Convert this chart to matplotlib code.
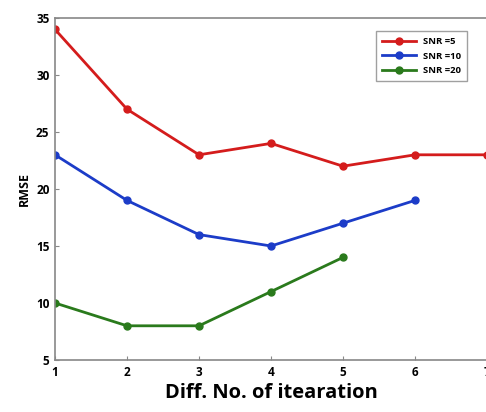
import matplotlib
matplotlib.use("Agg")
import matplotlib.pyplot as plt

iterations = [1, 2, 3, 4, 5, 6, 7]
rmse_snr5 = [34, 27, 23, 24, 22, 23, 23]
rmse_snr10 = [23, 19, 16, 15, 17, 19]
rmse_snr20 = [10, 8, 8, 11, 14]
labels = ["SNR =5", "SNR =10", "SNR =20"]
xticks = [1, 2, 3, 4, 5, 6, 7]
yticks = [5, 10, 15, 20, 25, 30, 35]

plt.rcParams['font.family'] = ['Open Sans', 'DejaVu Sans']

fig = plt.figure(figsize=(4.86, 4.12), dpi=100)
ax = fig.add_axes([55 / 486, 52 / 412, 432 / 486, 342 / 412])

ax.plot(iterations[:len(rmse_snr5)], rmse_snr5, '-o', color='#d41c1c', lw=2, ms=5, label=labels[0])
ax.plot(iterations[:len(rmse_snr10)], rmse_snr10, '-o', color='#1c3cc8', lw=2, ms=5, label=labels[1])
ax.plot(iterations[:len(rmse_snr20)], rmse_snr20, '-o', color='#2a7a1c', lw=2, ms=5, label=labels[2])

ax.set_xlim(1, 7)
ax.set_ylim(5, 35)
ax.set_xticks(xticks)
ax.set_yticks(yticks)
ax.tick_params(direction='in', length=3, color='#888888', labelsize=8.5, pad=4)
for lab in ax.get_xticklabels() + ax.get_yticklabels():
    lab.set_fontweight('bold')
for s in ax.spines.values():
    s.set_color('#888888')
    s.set_linewidth(1.2)

ax.set_xlabel("Diff. No. of itearation", fontsize=14.5, fontweight='bold', labelpad=3)
ax.set_ylabel("RMSE", fontsize=9, fontweight='bold', labelpad=4)

leg = ax.legend(loc='upper right', bbox_to_anchor=(0.965, 0.975),
                prop={'weight': 'bold', 'size': 6.8}, fancybox=False,
                edgecolor='#888888', handlelength=3.6, borderpad=0.6, labelspacing=0.6)
leg.get_frame().set_linewidth(1)

fig.savefig("out.png", dpi=100)
